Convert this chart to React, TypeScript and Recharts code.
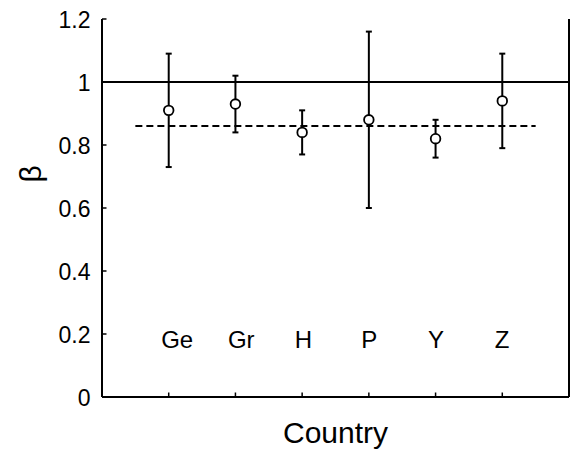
import {
  ComposedChart,
  ErrorBar,
  ReferenceLine,
  Scatter,
  XAxis,
  YAxis,
} from "recharts";

const countries = ["Ge", "Gr", "H", "P", "Y", "Z"];
const beta = [0.91, 0.93, 0.84, 0.88, 0.82, 0.94];
const betaLower = [0.73, 0.84, 0.77, 0.6, 0.76, 0.79];
const betaUpper = [1.09, 1.02, 0.91, 1.16, 0.88, 1.09];
const yTicks = [0, 0.2, 0.4, 0.6, 0.8, 1, 1.2];
const xTicks = [1, 2, 3, 4, 5, 6];
const referenceBeta = 1;
const pooledBeta = 0.86;
const pooledSpan = [0.5, 6.5];
const countryLabelY = 0.2;

const font = "'Liberation Sans', Arial, Helvetica, sans-serif";

// error bars are stored as offsets [below, above] for Recharts
const points = countries.map((c, i) => ({
  name: c,
  x: i + 1,
  y: beta[i],
  err: [beta[i] - betaLower[i], betaUpper[i] - beta[i]],
}));

const labelPoints = countries.map((c, i) => ({
  name: c,
  x: i + 1,
  y: countryLabelY,
}));

const TICK = 4.5;

const LeftTick = (props: any) => {
  const { x, y, payload } = props;
  return (
    <g>
      <line x1={x} x2={x + TICK} y1={y} y2={y} stroke="#000" strokeWidth={1.5} />
      <text x={x - 11.5} y={y + 9} textAnchor="end" fontSize={23} fontFamily={font} fill="#000">
        {String(payload.value)}
      </text>
    </g>
  );
};

const RightTick = (props: any) => {
  const { x, y } = props;
  return <line x1={x - TICK} x2={x} y1={y} y2={y} stroke="#000" strokeWidth={1.5} />;
};

const BottomTick = (props: any) => {
  const { x, y } = props;
  return <line x1={x} x2={x} y1={y - TICK} y2={y} stroke="#000" strokeWidth={1.5} />;
};

const TopTick = (props: any) => {
  const { x, y } = props;
  return <line x1={x} x2={x} y1={y} y2={y + TICK} stroke="#000" strokeWidth={1.5} />;
};

const OpenCircle = (props: any) => {
  const { cx, cy } = props;
  return <circle cx={cx} cy={cy} r={4.8} fill="#fff" stroke="#000" strokeWidth={1.8} />;
};

const CountryText = (props: any) => {
  const { cx, cy, payload } = props;
  return (
    <text x={cx - 7.5} y={cy + 14} textAnchor="start" fontSize={24} fontFamily={font} fill="#000">
      {payload.name}
    </text>
  );
};

const BetaLabel = (props: any) => {
  const vb = props.viewBox;
  const x = vb.x + 41;
  const y = vb.y + vb.height * 0.41;
  return (
    <text
      x={x}
      y={y}
      transform={`rotate(-90 ${x} ${y})`}
      textAnchor="middle"
      fontSize={30}
      fontFamily={font}
      fill="#000"
    >
      β
    </text>
  );
};

export default function App() {
  return (
    <div style={{ position: "absolute", left: 0, top: 0, background: "#fff" }}>
      <ComposedChart
        width={571}
        height={450}
        margin={{ top: 19, right: 0, bottom: 0, left: 0 }}
      >
        <XAxis
          type="number"
          dataKey="x"
          domain={[0, 7]}
          ticks={xTicks}
          height={53}
          tickSize={0}
          tickMargin={0}
          tick={<BottomTick />}
          axisLine={{ stroke: "#000", strokeWidth: 2 }}
          label={{
            value: "Country",
            position: "insideBottom",
            offset: 7,
            fontSize: 30,
            fontFamily: font,
            fill: "#000",
          }}
        />
        <XAxis
          xAxisId="top"
          orientation="top"
          type="number"
          domain={[0, 7]}
          ticks={xTicks}
          height={0}
          tickSize={0}
          tickMargin={0}
          tick={<TopTick />}
          axisLine={{ stroke: "#000", strokeWidth: 2 }}
        />
        <YAxis
          type="number"
          dataKey="y"
          domain={[0, 1.2]}
          ticks={yTicks}
          width={102}
          tickSize={0}
          tickMargin={0}
          tick={<LeftTick />}
          axisLine={{ stroke: "#000", strokeWidth: 2 }}
          label={<BetaLabel />}
        />
        <YAxis
          yAxisId="r"
          orientation="right"
          type="number"
          domain={[0, 1.2]}
          ticks={yTicks}
          width={2}
          tickSize={0}
          tickMargin={0}
          tick={<RightTick />}
          axisLine={{ stroke: "#000", strokeWidth: 2 }}
        />
        <ReferenceLine y={referenceBeta} stroke="#000" strokeWidth={2} />
        <ReferenceLine
          segment={[
            { x: pooledSpan[0], y: pooledBeta },
            { x: pooledSpan[1], y: pooledBeta },
          ]}
          stroke="#000"
          strokeWidth={2}
          strokeDasharray="7 4"
        />
        <Scatter data={labelPoints} shape={<CountryText />} isAnimationActive={false} />
        <Scatter data={points} shape={<OpenCircle />} isAnimationActive={false}>
          <ErrorBar dataKey="err" direction="y" width={3} stroke="#000" strokeWidth={2} />
        </Scatter>
      </ComposedChart>
    </div>
  );
}
